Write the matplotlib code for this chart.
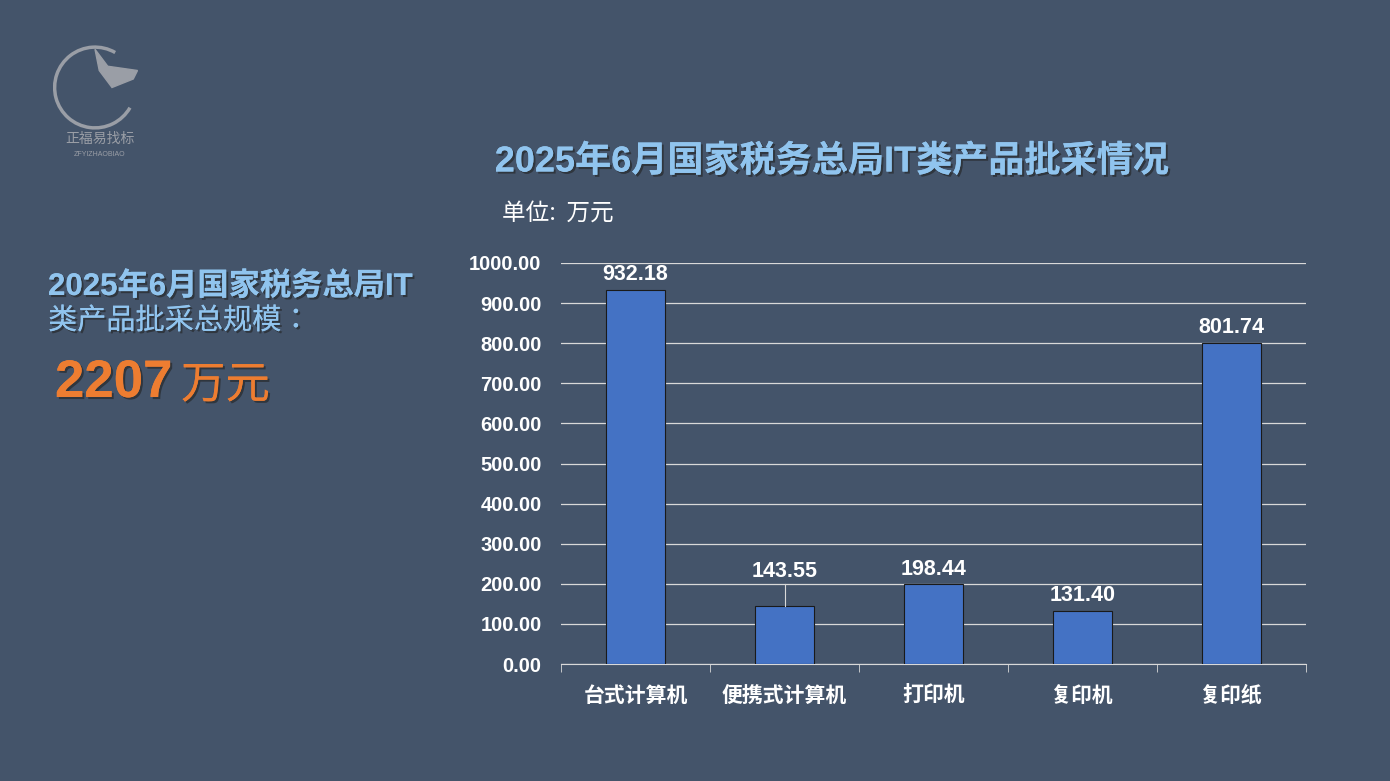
import matplotlib
matplotlib.use("Agg")
import matplotlib.pyplot as plt
from matplotlib.patches import Arc
from matplotlib import font_manager as fm
import matplotlib.patheffects as pe

categories = ["台式计算机", "便携式计算机", "打印机", "复印机", "复印纸"]
values = [932.18, 143.55, 198.44, 131.40, 801.74]
yticks = [0, 100, 200, 300, 400, 500, 600, 700, 800, 900, 1000]

names = sorted({f.name for f in fm.fontManager.ttflist})
cjk = [n for n in names if "CJK" in n and "SC" in n] or [n for n in names if "CJK" in n]
CJK = cjk[0] if cjk else "DejaVu Sans"

BG = "#44546A"
FONT = ["Liberation Sans", CJK]
plt.rcParams["font.family"] = FONT

fig = plt.figure(figsize=(13.9, 7.81), dpi=100, facecolor=BG)
ax = fig.add_axes([561/1390, 117/781, 745/1390, 401/781], facecolor=BG)

x = list(range(len(categories)))
ax.bar(x, values, width=0.4, color="#4472C4", edgecolor="#1a1a1a", linewidth=0.8, zorder=3)
ax.set_xlim(-0.5, len(categories) - 0.5)
ax.set_ylim(0, 1000)
ax.set_yticks(yticks)
ax.set_yticklabels([f"{v:.2f}" for v in yticks], fontsize=14.5, fontweight="bold", color="white")
ax.yaxis.grid(True, color="#d9d9d9", linewidth=0.9, zorder=0)
ax.tick_params(axis="y", length=0, pad=14)
ax.set_xticks(x)
ax.set_xticklabels(categories, fontsize=15, fontweight="bold", color="white", family=CJK)
ax.tick_params(axis="x", which="major", length=0, pad=15)
ax.set_xticks([i - 0.5 for i in range(len(categories) + 1)], minor=True)
ax.tick_params(axis="x", which="minor", length=6, color="#d9d9d9")
for s in ["top", "right", "left"]:
    ax.spines[s].set_visible(False)
ax.spines["bottom"].set_color("#d9d9d9")

for i, v in enumerate(values):
    y = v + 12
    if i == 1:
        y = v + 60
        ax.plot([i, i], [v, v + 55], color="#d9d9d9", linewidth=0.8, zorder=4)
    ax.text(i, y, f"{v:.2f}", ha="center", va="bottom", fontsize=15.5,
            fontweight="bold", color="white")

shadow = [pe.withSimplePatchShadow(offset=(1.5, -1.5), shadow_rgbFace="#222222", alpha=0.6), pe.Normal()]
TC = "#90C4EE"
fig.text(832/1390, 1 - 162/781, "2025年6月国家税务总局IT类产品批采情况", ha="center", va="center",
         fontsize=26, fontweight="bold", color=TC, path_effects=shadow)
fig.text(502/1390, 1 - 213/781, "单位:  万元", ha="left", va="center", fontsize=17,
         color="white", family=CJK)
fig.text(48/1390, 1 - 287/781, "2025年6月国家税务总局IT", ha="left", va="center", fontsize=22.5,
         fontweight="bold", color=TC, path_effects=shadow)
fig.text(48/1390, 1 - 321/781, "类产品批采总规模：", ha="left", va="center", fontsize=21,
         color=TC, family=CJK, path_effects=shadow)
fig.text(55/1390, 1 - 383/781, "2207", ha="left", va="center", fontsize=38,
         fontweight="bold", color="#ED7D31", path_effects=shadow)
fig.text(181/1390, 1 - 385/781, "万元", ha="left", va="center", fontsize=32,
         color="#ED7D31", family=CJK, path_effects=shadow)

# logo
lax = fig.add_axes([50/1390, 1 - 130/781, 90/1390, 85/781])
lax.set_xlim(-1, 1); lax.set_ylim(-1, 1); lax.axis("off"); lax.set_aspect("equal")
lax.add_patch(Arc((0, 0), 1.9, 1.9, theta1=60, theta2=330, color="#9a9ea6", lw=2.5))
lax.fill([0.0, 0.3, 1.0, 0.9, 0.4, 0.1], [0.9, 0.5, 0.4, 0.2, 0.0, 0.4], color="#9a9ea6")
fig.text(100/1390, 1 - 139/781, "正福易找标", ha="center", va="center", fontsize=10,
         color="#9a9ea6", family=CJK)
fig.text(100/1390, 1 - 155/781, "ZFYIZHAOBIAO", ha="center", va="center", fontsize=5,
         color="#9a9ea6")

fig.savefig("out.png", dpi=100, facecolor=BG)
